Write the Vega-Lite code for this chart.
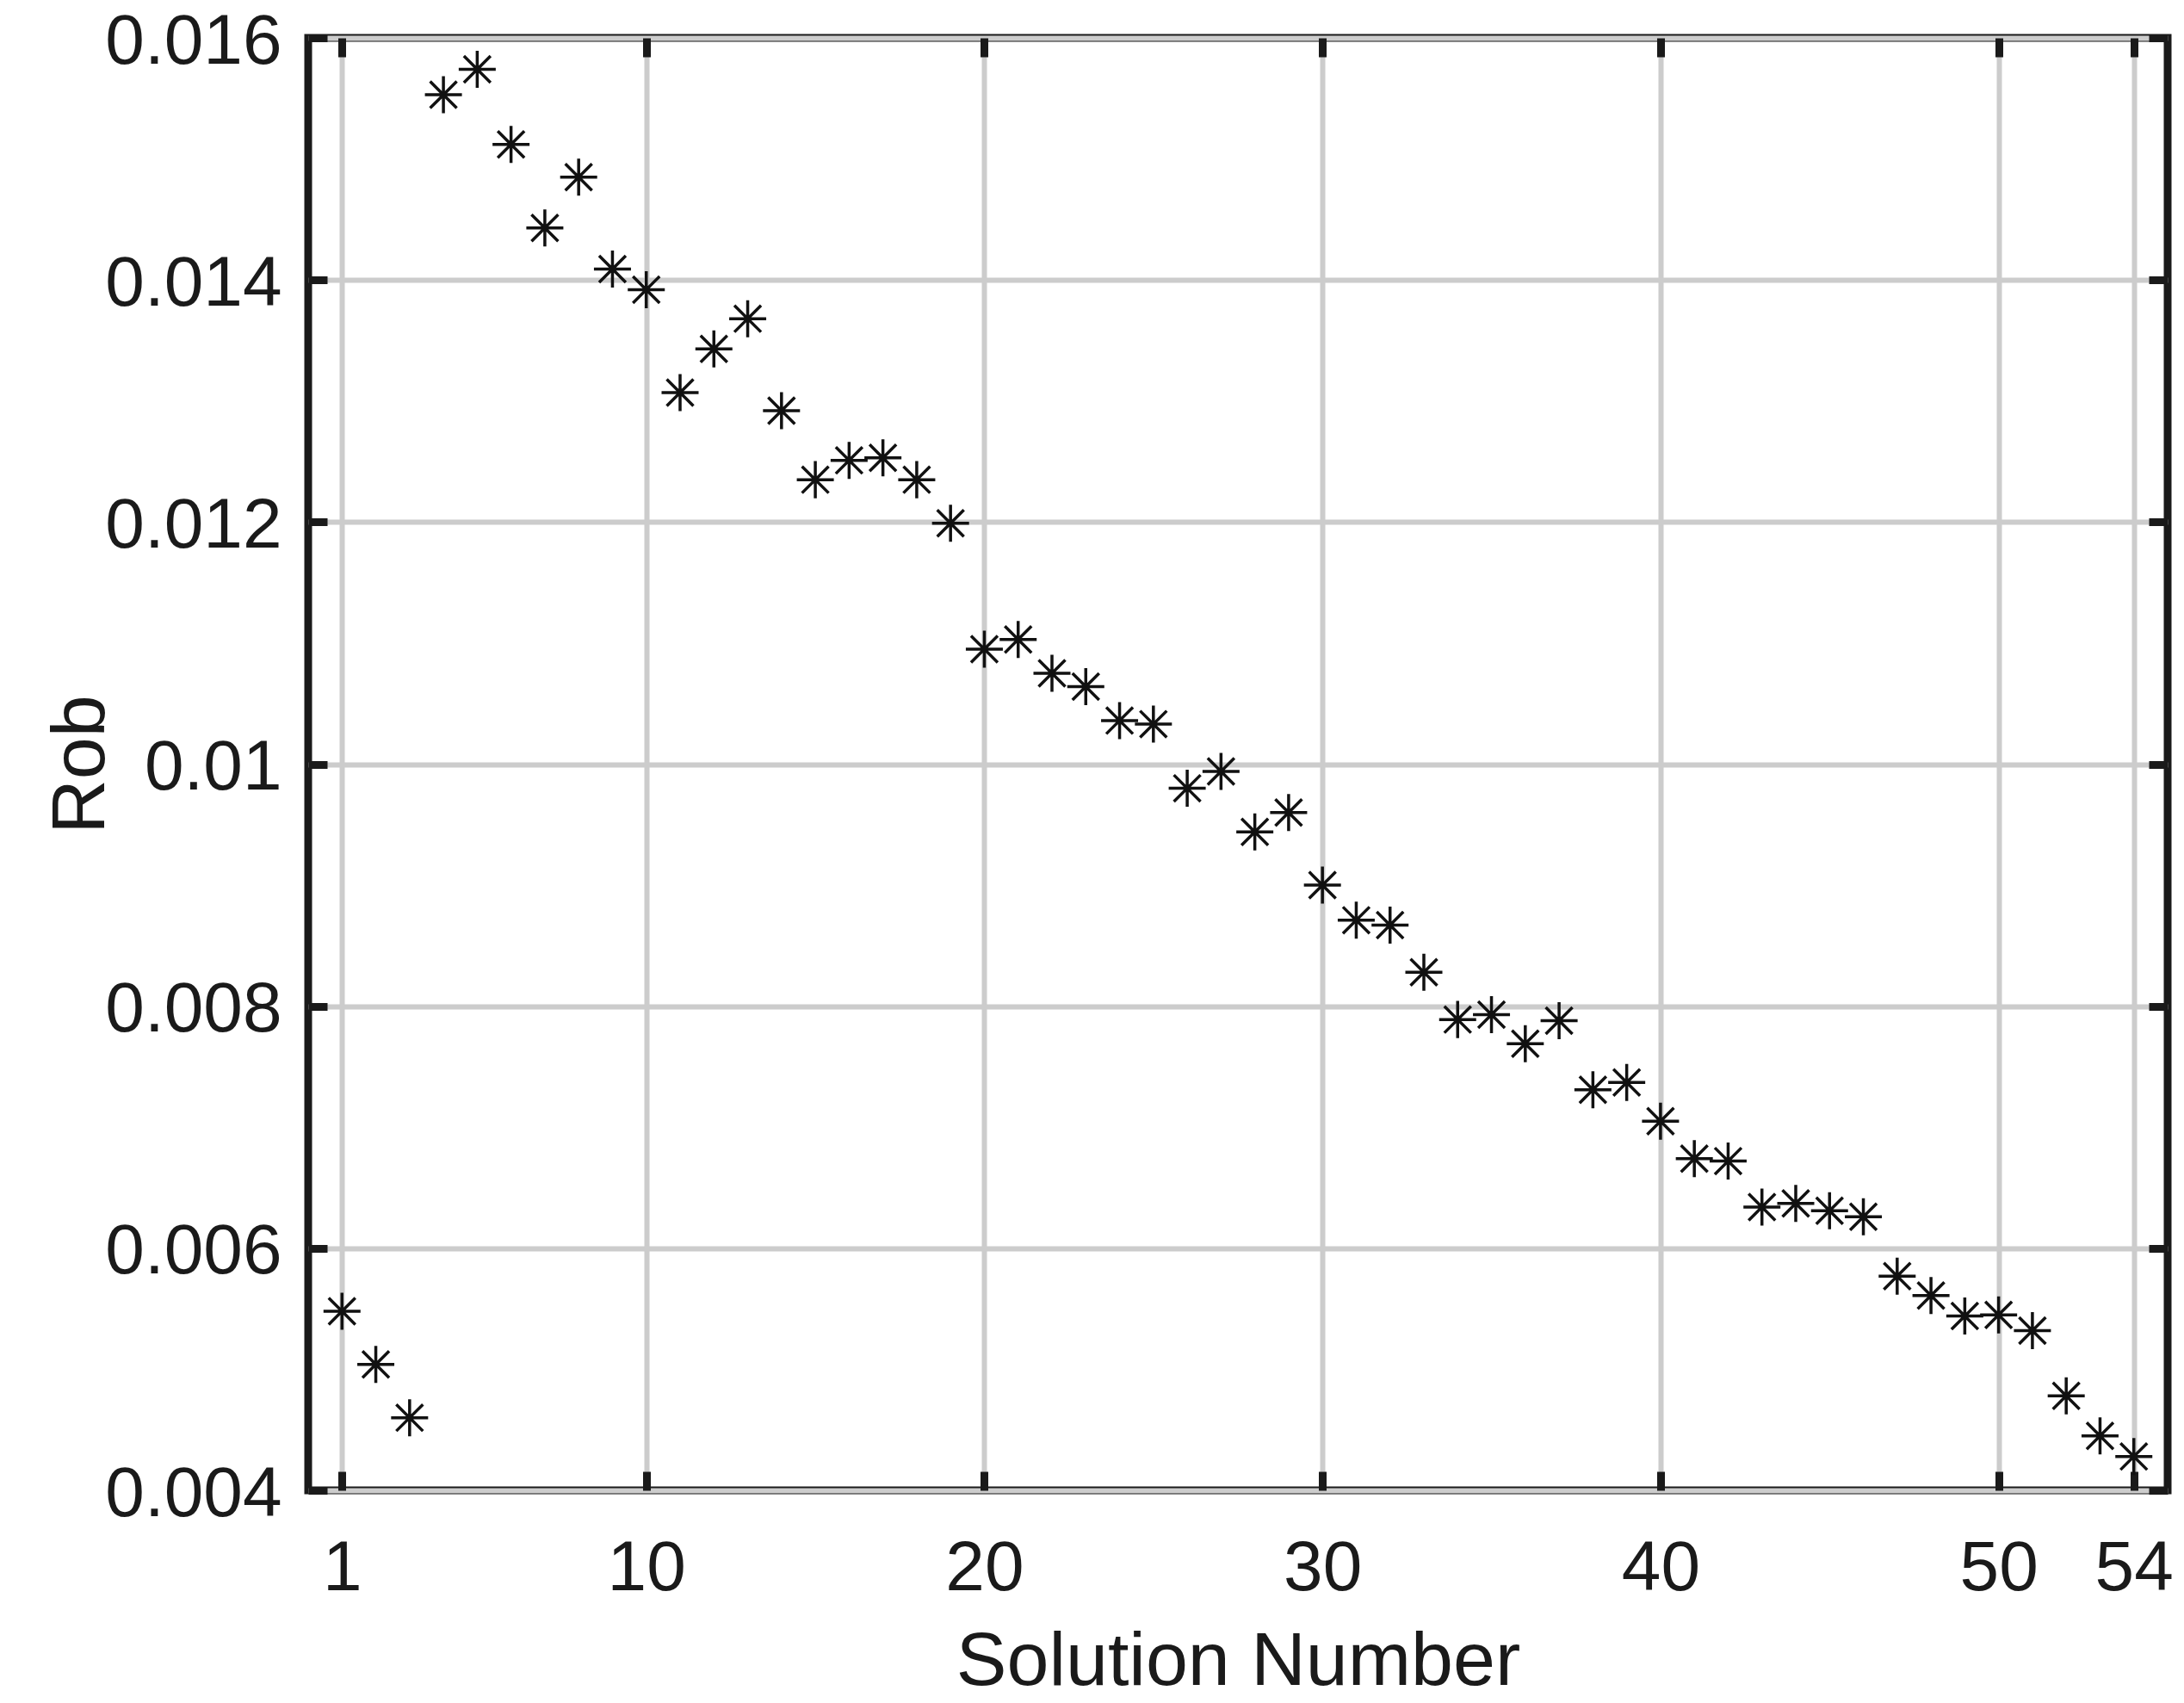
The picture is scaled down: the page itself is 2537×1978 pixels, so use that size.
{
  "$schema": "https://vega.github.io/schema/vega-lite/v6.json",
  "width": 2160,
  "height": 1687,
  "autosize": {"type": "none"},
  "padding": {"left": 358, "top": 44, "right": 19, "bottom": 247},
  "background": "white",
  "data": {
    "values": [
      {"solution": 1, "rob": 0.00548},
      {"solution": 2, "rob": 0.00504},
      {"solution": 3, "rob": 0.0046},
      {"solution": 4, "rob": 0.01553},
      {"solution": 5, "rob": 0.01574},
      {"solution": 6, "rob": 0.01512},
      {"solution": 7, "rob": 0.01443},
      {"solution": 8, "rob": 0.01485},
      {"solution": 9, "rob": 0.01409},
      {"solution": 10, "rob": 0.01392},
      {"solution": 11, "rob": 0.01307},
      {"solution": 12, "rob": 0.01343},
      {"solution": 13, "rob": 0.01368},
      {"solution": 14, "rob": 0.01292},
      {"solution": 15, "rob": 0.01235},
      {"solution": 16, "rob": 0.01251},
      {"solution": 17, "rob": 0.01253},
      {"solution": 18, "rob": 0.01235},
      {"solution": 19, "rob": 0.01199},
      {"solution": 20, "rob": 0.01095},
      {"solution": 21, "rob": 0.01103},
      {"solution": 22, "rob": 0.01075},
      {"solution": 23, "rob": 0.01064},
      {"solution": 24, "rob": 0.01036},
      {"solution": 25, "rob": 0.01033},
      {"solution": 26, "rob": 0.0098},
      {"solution": 27, "rob": 0.00994},
      {"solution": 28, "rob": 0.00944},
      {"solution": 29, "rob": 0.0096},
      {"solution": 30, "rob": 0.009},
      {"solution": 31, "rob": 0.00871},
      {"solution": 32, "rob": 0.00867},
      {"solution": 33, "rob": 0.00828},
      {"solution": 34, "rob": 0.00789},
      {"solution": 35, "rob": 0.00793},
      {"solution": 36, "rob": 0.00769},
      {"solution": 37, "rob": 0.00788},
      {"solution": 38, "rob": 0.00731},
      {"solution": 39, "rob": 0.00737},
      {"solution": 40, "rob": 0.00705},
      {"solution": 41, "rob": 0.00674},
      {"solution": 42, "rob": 0.00672},
      {"solution": 43, "rob": 0.00634},
      {"solution": 44, "rob": 0.00637},
      {"solution": 45, "rob": 0.00631},
      {"solution": 46, "rob": 0.00626},
      {"solution": 47, "rob": 0.00577},
      {"solution": 48, "rob": 0.00561},
      {"solution": 49, "rob": 0.00544},
      {"solution": 50, "rob": 0.00545},
      {"solution": 51, "rob": 0.00532},
      {"solution": 52, "rob": 0.00478},
      {"solution": 53, "rob": 0.00445},
      {"solution": 54, "rob": 0.00428}
    ]
  },
  "layer": [
    {
      "mark": {
        "type": "point",
        "shape": "M0,-1L0,1M-1,0L1,0M-0.72,-0.72L0.72,0.72M-0.72,0.72L0.72,-0.72",
        "size": 1850,
        "filled": false,
        "stroke": "#111111",
        "strokeWidth": 3.5,
        "opacity": 1
      },
      "encoding": {
        "x": {
          "field": "solution",
          "type": "quantitative",
          "scale": {"domain": [0, 55], "nice": false, "zero": false},
          "axis": {
            "orient": "bottom",
            "values": [1, 10, 20, 30, 40, 50, 54],
            "title": "Solution Number",
            "grid": true,
            "tickSize": -22,
            "labelPadding": 72,
            "titlePadding": 24
          }
        },
        "y": {
          "field": "rob",
          "type": "quantitative",
          "scale": {"domain": [0.004, 0.016], "nice": false, "zero": false},
          "axis": {
            "orient": "left",
            "values": [0.004, 0.006, 0.008, 0.01, 0.012, 0.014, 0.016],
            "format": "~g",
            "title": "Rob",
            "grid": true,
            "tickSize": -22,
            "labelPadding": 53,
            "labelOffset": 4,
            "titlePadding": 20
          }
        }
      }
    },
    {
      "mark": {"type": "point", "opacity": 0},
      "encoding": {
        "x": {
          "field": "solution",
          "type": "quantitative",
          "axis": {
            "orient": "top",
            "values": [1, 10, 20, 30, 40, 50, 54],
            "title": null,
            "labels": false,
            "grid": false,
            "tickSize": -22
          }
        },
        "y": {
          "field": "rob",
          "type": "quantitative",
          "axis": {
            "orient": "right",
            "values": [0.004, 0.006, 0.008, 0.01, 0.012, 0.014, 0.016],
            "title": null,
            "labels": false,
            "grid": false,
            "tickSize": -22
          }
        }
      }
    }
  ],
  "resolve": {"axis": {"x": "independent", "y": "independent"}},
  "config": {
    "view": {"stroke": "#1a1a1a", "strokeWidth": 9},
    "axis": {
      "domain": false,
      "ticks": true,
      "tickColor": "#1a1a1a",
      "tickWidth": 9,
      "gridColor": "#cccccc",
      "gridWidth": 6,
      "gridOpacity": 1,
      "labelFont": "Liberation Sans",
      "labelFontSize": 82,
      "labelColor": "#1a1a1a",
      "labelLimit": 0,
      "labelFlush": false,
      "labelOverlap": false,
      "titleFont": "Liberation Sans",
      "titleFontSize": 88,
      "titleFontWeight": "normal",
      "titleColor": "#1a1a1a"
    }
  }
}
